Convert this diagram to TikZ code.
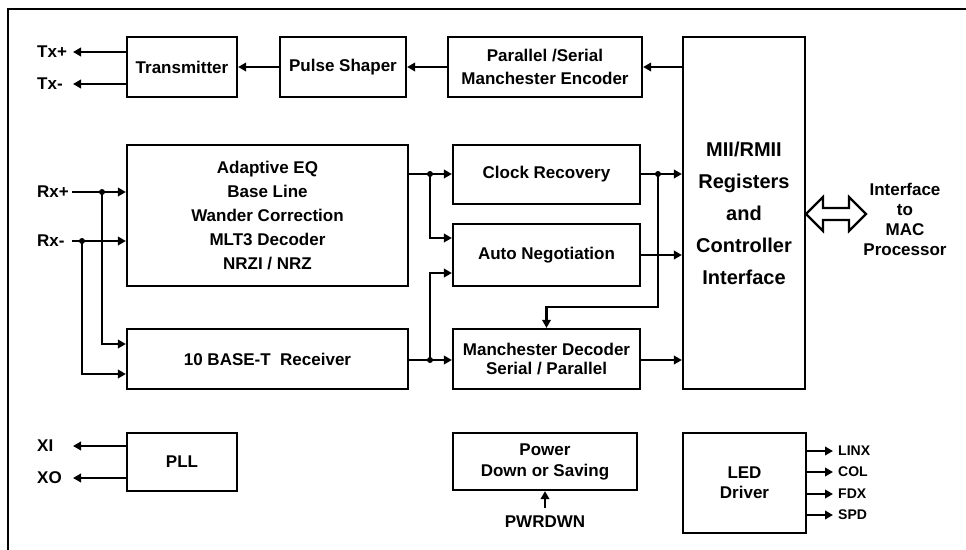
\documentclass[tikz,border=0pt]{standalone}
\usepackage{fontspec}
\setmainfont{Liberation Sans}
\usetikzlibrary{arrows.meta}

\begin{document}
\begin{tikzpicture}[x=1pt, y=-1pt,
    block/.style ={draw, line width=2.2pt, inner sep=0pt, align=center,
      font=\bfseries\fontsize{17}{21}\selectfont},
    port/.style ={inner sep=1pt, anchor=west, font=\bfseries\fontsize{17}{20}\selectfont},
    ledport/.style ={inner sep=0pt, inner xsep=5pt, anchor=west, font=\bfseries\fontsize{14}{16}\selectfont},
    flow/.style ={line width=2.2pt, -{Triangle[length=8pt, width=8.5pt]}},
    wire/.style ={line width=2.2pt},
    junction/.style ={circle, fill, inner sep=0pt, minimum size=6pt}]
   \useasboundingbox (0,0) rectangle (966,549);
   \draw[wire, line join=miter] (8,560) -- (8,9) -- (975,9);
   % blocks
   \node[block, minimum width=110, minimum height=60] (tx) at (182,67) {Transmitter};
   \node[block, minimum width=126, minimum height=60] (shaper) at (343,67) {Pulse Shaper};
   \node[block, minimum width=194, minimum height=60, font=\bfseries\fontsize{17}{23}\selectfont] (encoder) at (545,67) {Parallel /Serial\\Manchester Encoder};
   \node[block, minimum width=122, minimum height=352, font=\bfseries\fontsize{20}{32}\selectfont] (mii) at (744,213) {MII/RMII\\Registers\\and\\Controller\\Interface};
   \node[block, minimum width=281, minimum height=141, font=\bfseries\fontsize{17}{24}\selectfont] (eq) at (267.5,215.5) {Adaptive EQ\\Base Line\\Wander Correction\\MLT3 Decoder\\NRZI / NRZ};
   \node[block, minimum width=281, minimum height=60] (base) at (267.5,359) {10 BASE-T\ \ Receiver};
   \node[block, minimum width=187, minimum height=59] (clock) at (546.5,174.5) {Clock Recovery};
   \node[block, minimum width=187, minimum height=62] (autoneg) at (546.5,255) {Auto Negotiation};
   \node[block, minimum width=187, minimum height=60, font=\bfseries\fontsize{17}{19}\selectfont] (mdec) at (546.5,359) {Manchester Decoder\\Serial / Parallel};
   \node[block, minimum width=110, minimum height=58] (pll) at (182,462) {PLL};
   \node[block, minimum width=184, minimum height=57] (power) at (545,461.5) {Power\\Down or Saving};
   \node[block, minimum width=123, minimum height=100, font=\bfseries\fontsize{17}{20}\selectfont] (led) at (744.5,483) {LED\\Driver};
   \node[align=center, font=\bfseries\fontsize{17}{20}\selectfont] (mac) at (905,219) {Interface\\to\\MAC\\Processor};
   % outputs on the left
   \foreach \lbl/\nm/\y/\src in {Tx+/txplus/52/tx, Tx-/txminus/84/tx, XI/xi/446/pll, XO/xo/478/pll} {
     \node[port] (\nm) at (36,\y) {\lbl};
     \coordinate (\nm end) at (73,\y);
     \draw[flow] (\src.west |- \nm end) -- (\nm end);
   }
   % transmit path
   \draw[flow] (mii.west |- encoder.east) -- (encoder.east);
   \draw[flow] (encoder.west) -- (shaper.east);
   \draw[flow] (shaper.west) -- (tx.east);
   % receive inputs
   \node[port] (rxplus) at (36,192) {Rx+};
   \node[port] (rxminus) at (36,241) {Rx-};
   \coordinate (rxplusin) at (72,192);
   \coordinate (rxminusin) at (72,241);
   \node[junction] (jrxp) at (102,192) {};
   \node[junction] (jrxm) at (82,241) {};
   \draw[flow] (rxplusin) -- (eq.west |- rxplusin);
   \draw[flow] (rxminusin) -- (eq.west |- rxminusin);
   \draw[flow] (jrxp.center) |- (base.west |- 0,344);
   \draw[flow] (jrxm.center) |- (base.west |- 0,374);
   % middle column
   \node[junction] (jeq) at (430,174) {};
   \node[junction] (jbase) at (430,360) {};
   \node[junction] (jclk) at (658,174) {};
   \draw[flow] (eq.east |- jeq) -- (clock.west |- jeq);
   \draw[flow] (jeq.center) |- (autoneg.west |- 0,238);
   \draw[flow] (base.east |- jbase) -- (mdec.west |- jbase);
   \draw[flow] (jbase.center) |- (autoneg.west |- 0,273);
   \draw[flow] (clock.east |- jclk) -- (mii.west |- jclk);
   \draw[flow] (jclk.center) |- (mdec.north |- 0,307) -- (mdec.north);
   \draw[flow] (autoneg.east) -- (mii.west |- autoneg.east);
   \draw[flow] (mdec.east |- jbase) -- (mii.west |- jbase);
   % MAC interface
   \draw[wire, line join=miter] (806,214) -- (823,197) -- (823,208) -- (849,208) -- (849,197)
     -- (866,214) -- (849,231) -- (849,220) -- (823,220) -- (823,231) -- cycle;
   % power down
   \node[port, anchor=center, inner ysep=8pt] (pwrdwn) at (545,522) {PWRDWN};
   \draw[flow] (pwrdwn) -- (power);
   % led outputs
   \foreach \lbl/\y in {LINX/451, COL/472, FDX/494, SPD/515} {
     \node[ledport] (\lbl) at (833,\y) {\lbl};
     \draw[flow] (led.east |- \lbl.west) -- (\lbl.west);
   }
 \end{tikzpicture}
\end{document}
